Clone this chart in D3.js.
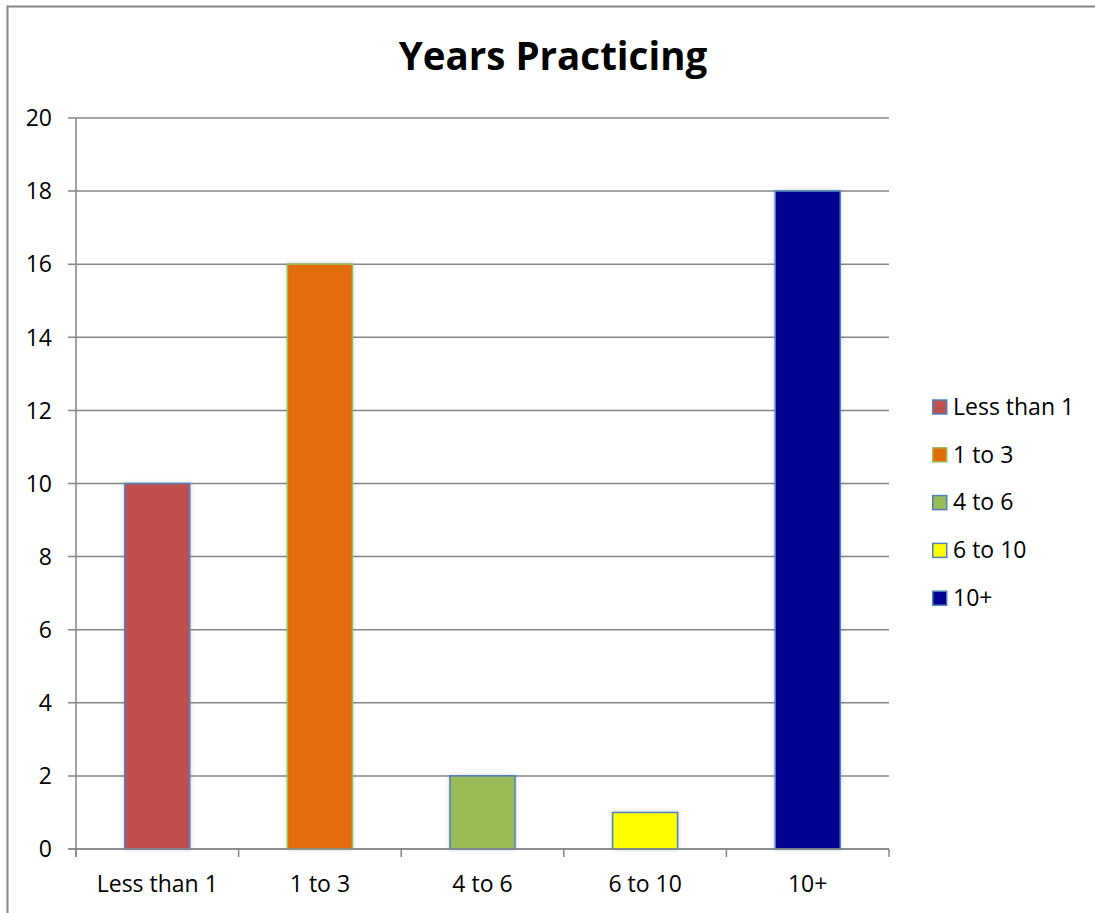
<!DOCTYPE html>
<html>
<head>
<meta charset="utf-8">
<script src="https://cdn.jsdelivr.net/npm/d3@7"></script>
<style>
  html, body { margin: 0; padding: 0; background: #fff; overflow: hidden; }
  svg { display: block; }
  text { font-family: "Open Sans", "Liberation Sans", sans-serif; fill: #000; }
</style>
</head>
<body>
<svg id="chart" width="1095" height="913"></svg>
<script>
// Survey: how long respondents have been practicing
const categories = ["Less than 1", "1 to 3", "4 to 6", "6 to 10", "10+"];
const counts = [10, 16, 2, 1, 18];
const fills = ["#C0504D", "#E36C09", "#9BBB59", "#FFFF00", "#000090"];
const strokes = ["#4F81BD", "#9BBB59", "#4F81BD", "#4F81BD", "#4F81BD"];
const yTicks = [0, 2, 4, 6, 8, 10, 12, 14, 16, 18, 20];
const title = "Years Practicing";

const svg = d3.select("#chart");
const W = 1095, H = 913;
const plot = { left: 76, right: 889, top: 118, bottom: 849 };

// chart frame (top and left edges fall inside the view)
svg.append("path")
  .attr("d", `M7.5,${H} V6.5 H${W}`)
  .attr("fill", "none").attr("stroke", "#868686").attr("stroke-width", 2);

const defs = svg.append("defs");
const f = defs.append("filter").attr("id", "soft")
  .attr("x", "-20%").attr("y", "-20%").attr("width", "140%").attr("height", "140%");
f.append("feGaussianBlur").attr("in", "SourceAlpha").attr("stdDeviation", 2).attr("result", "b");
f.append("feFlood").attr("flood-color", "#000").attr("flood-opacity", 0.18);
f.append("feComposite").attr("in2", "b").attr("operator", "in").attr("result", "s");
const m = f.append("feMerge");
m.append("feMergeNode").attr("in", "s");
m.append("feMergeNode").attr("in", "SourceGraphic");

const x = d3.scaleBand().domain(categories).range([plot.left, plot.right]).padding(0);
const y = d3.scaleLinear().domain([0, 20]).range([plot.bottom, plot.top]);

// horizontal gridlines
svg.append("g").selectAll("line").data(yTicks).join("line")
  .attr("x1", plot.left - 8).attr("x2", plot.right)
  .attr("y1", d => y(d)).attr("y2", d => y(d))
  .attr("stroke", "#868686").attr("stroke-width", 1.5);

// y axis line
svg.append("line")
  .attr("x1", plot.left).attr("x2", plot.left)
  .attr("y1", plot.top).attr("y2", plot.bottom + 8)
  .attr("stroke", "#868686").attr("stroke-width", 1.5);

// y tick labels
svg.append("g").selectAll("text").data(yTicks).join("text")
  .attr("x", plot.left - 24).attr("y", d => y(d))
  .attr("dy", "0.36em").attr("text-anchor", "end")
  .attr("font-size", 23).text(d => d);

// x category boundary ticks
const bounds = categories.map(c => x(c)).concat([plot.right]);
svg.append("g").selectAll("line").data(bounds).join("line")
  .attr("x1", d => d).attr("x2", d => d)
  .attr("y1", plot.bottom).attr("y2", plot.bottom + 8)
  .attr("stroke", "#868686").attr("stroke-width", 1.5);

// bars
const bw = x.bandwidth() * 0.4;
svg.append("g").selectAll("rect").data(categories).join("rect")
  .attr("x", (c) => x(c) + (x.bandwidth() - bw) / 2)
  .attr("y", (c, i) => y(counts[i]))
  .attr("width", bw)
  .attr("height", (c, i) => y(0) - y(counts[i]))
  .attr("fill", (c, i) => fills[i])
  .attr("stroke", (c, i) => strokes[i])
  .attr("stroke-width", 1.5)
  .attr("filter", "url(#soft)");

// baseline over bars
svg.append("line")
  .attr("x1", plot.left - 8).attr("x2", plot.right)
  .attr("y1", plot.bottom).attr("y2", plot.bottom)
  .attr("stroke", "#868686").attr("stroke-width", 1.5);

// x labels
svg.append("g").selectAll("text").data(categories).join("text")
  .attr("x", c => x(c) + x.bandwidth() / 2)
  .attr("y", plot.bottom + 43)
  .attr("text-anchor", "middle")
  .attr("font-size", 23).text(c => c);

// title
svg.append("text")
  .attr("x", 553).attr("y", 70)
  .attr("text-anchor", "middle")
  .attr("font-size", 38.5).attr("font-weight", "bold")
  .text(title);

// legend
const lg = svg.append("g").selectAll("g").data(categories).join("g")
  .attr("transform", (c, i) => `translate(932, ${406.5 + i * 47.8})`);
lg.append("rect")
  .attr("x", 0.75).attr("y", -6.5).attr("width", 14).attr("height", 14)
  .attr("fill", (c, i) => fills[i])
  .attr("stroke", (c, i) => strokes[i]).attr("stroke-width", 1.5);
lg.append("text")
  .attr("x", 21).attr("y", 0).attr("dy", "0.36em")
  .attr("font-size", 23).text(c => c);
</script>
</body>
</html>
